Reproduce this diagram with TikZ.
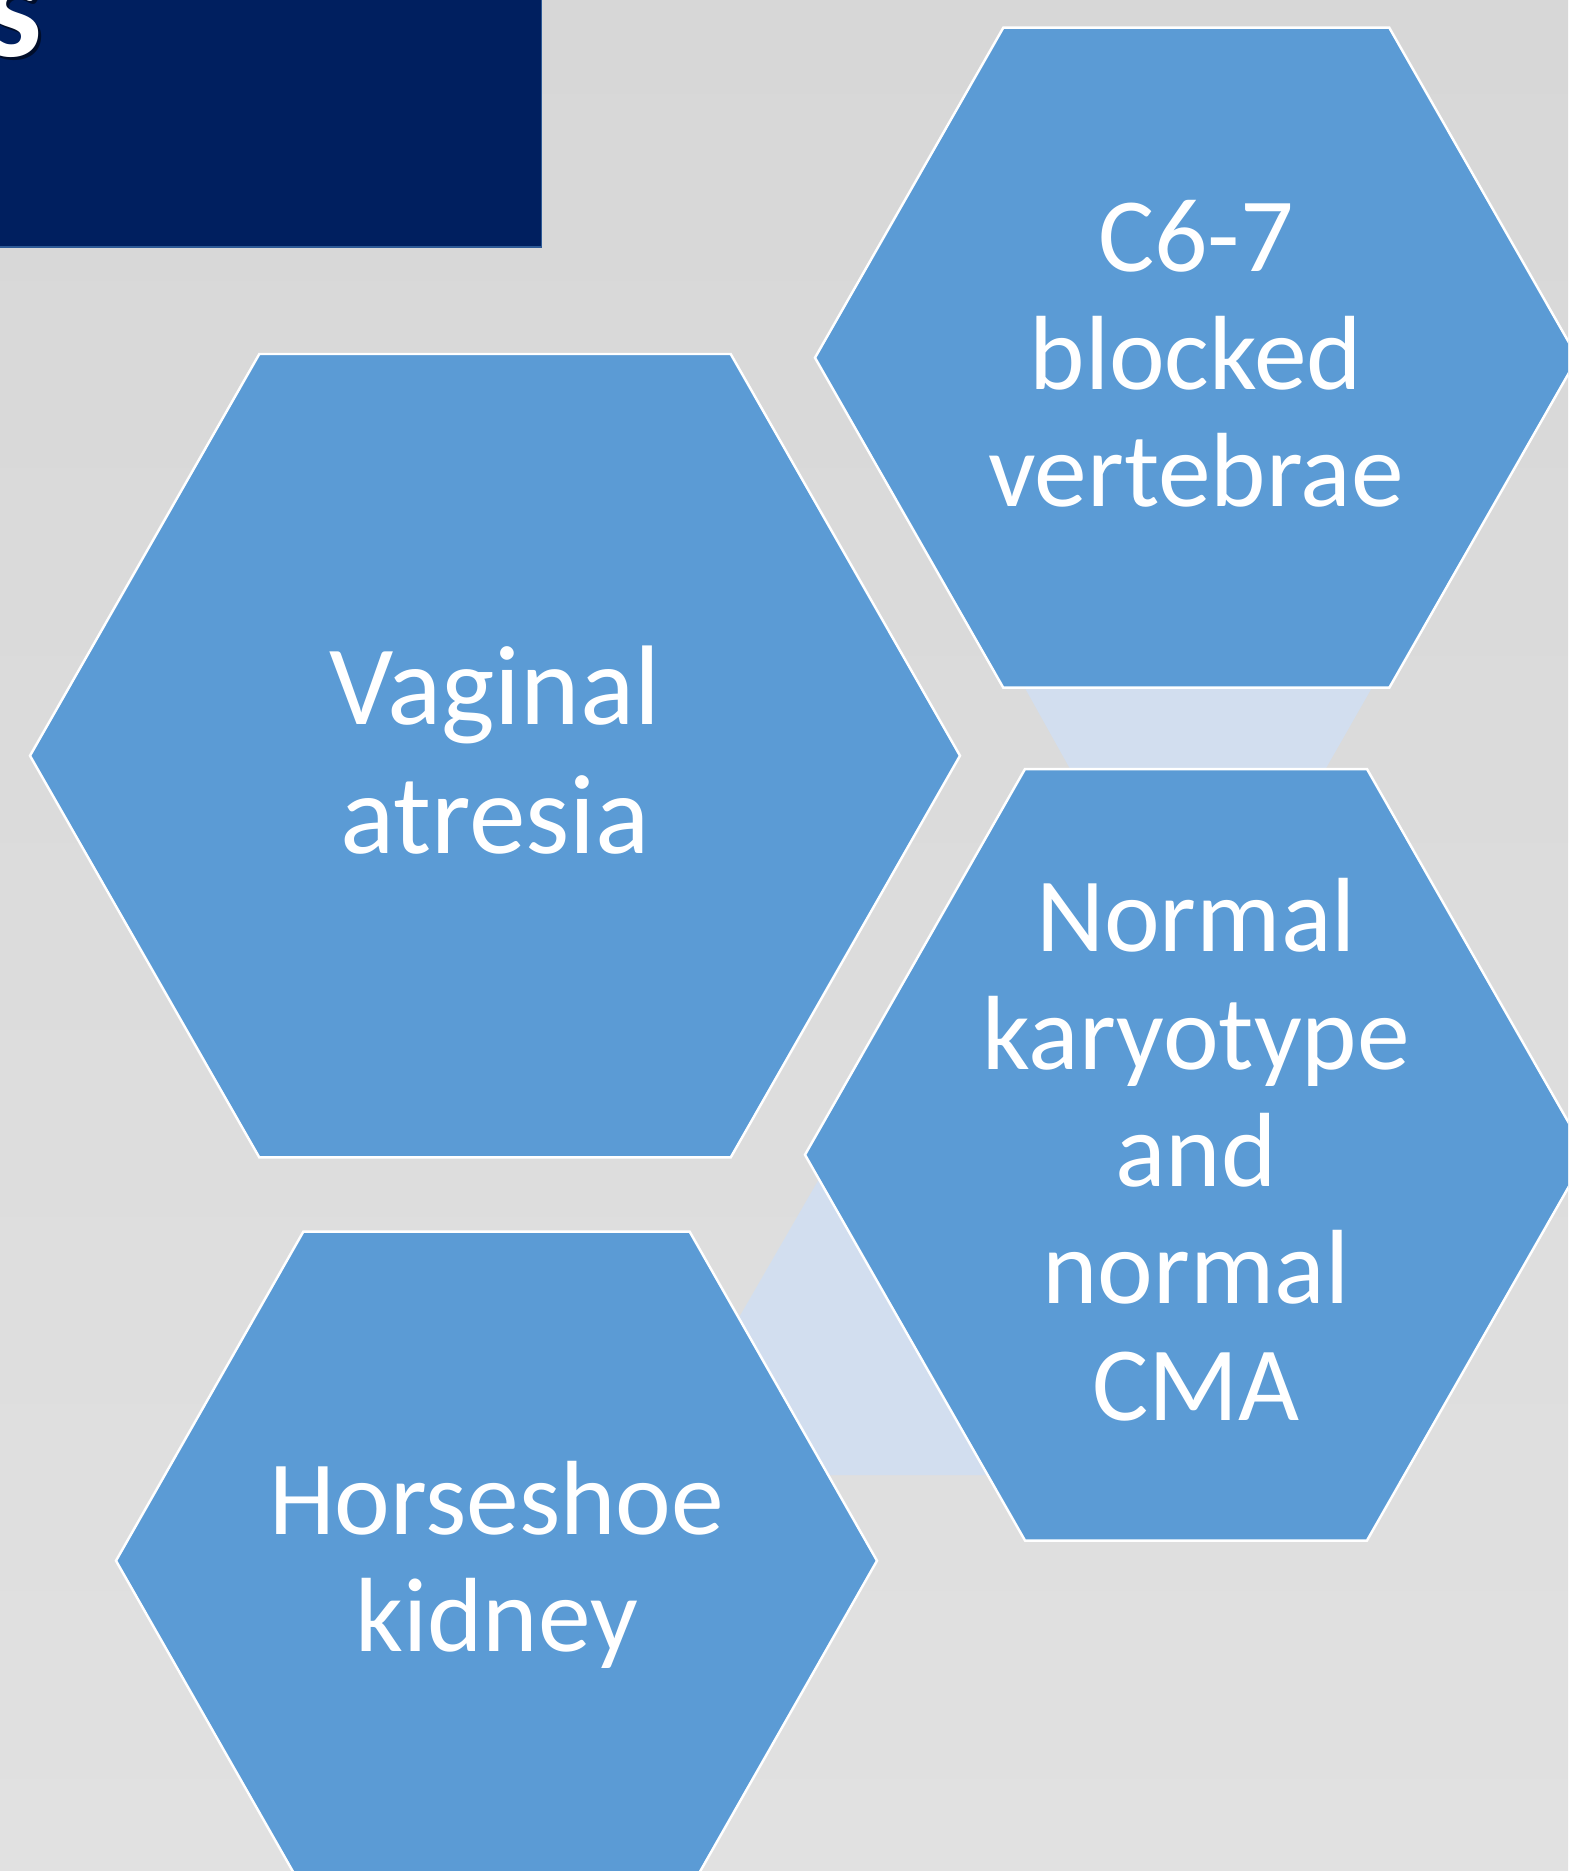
\documentclass[tikz,border=0pt]{standalone}
\usepackage{fontspec}
\setmainfont{Carlito}
\definecolor{hexblue}{HTML}{5B9BD5}
\definecolor{lightband}{HTML}{D2DEEF}
\definecolor{bgtop}{HTML}{D7D7D7}
\definecolor{bgbot}{HTML}{E1E1E1}
\definecolor{navy}{HTML}{001F5F}
\definecolor{navyedge}{HTML}{2E5A96}
\tikzset{
  hexshape/.style={fill=hexblue, draw=white, line width=0.7pt, line join=miter},
  bandshape/.style={fill=lightband},
  hextext/.style={text=white, align=center, inner sep=0pt, font=\fontsize{30}{33.3}\selectfont},
  bigtext/.style={text=white, align=center, inner sep=0pt, font=\fontsize{32.2}{36.7}\selectfont}
}
\begin{document}
\begin{tikzpicture}[x=0.01cm, y=-0.01cm]
\useasboundingbox (0,0) rectangle (1568,1871);
\clip (0,0) rectangle (1568,1871);
% background
\shade[top color=bgtop, bottom color=bgbot] (0,0) rectangle (1568,1871);
% light bands (behind the hexagons)
\path[bandshape] (1020.5,680) -- (1376.3,680) -- (1322.1,775) -- (1073.5,775) -- cycle;
\path[bandshape] (830,1160) -- (700,1385) -- (700,1475) -- (1000,1475) -- (1000,1160) -- cycle;
% hexagons
\draw[hexshape] (815,357.7) -- (1003.3,27.7) -- (1389.3,27.7) -- (1577.6,357.7) -- (1389.3,687.7) -- (1003.3,687.7) -- cycle;
\draw[hexshape] (30,755.7) -- (259.3,354) -- (730.7,354) -- (960,755.7) -- (730.7,1157.4) -- (259.3,1157.4) -- cycle;
\draw[hexshape] (805,1154.75) -- (1025,769) -- (1367,769) -- (1587,1154.75) -- (1367,1540.5) -- (1025,1540.5) -- cycle;
\draw[hexshape] (116,1560.7) -- (303.3,1231.7) -- (689.7,1231.7) -- (877,1560.7) -- (689.7,1889.7) -- (303.3,1889.7) -- cycle;
% texts
\node[hextext] (c67) at (1196,353.8) {C6-7\\blocked\\vertebrae};
\node[bigtext] (vag) at (495,750.1) {Vaginal\\atresia};
\node[hextext] (kar) at (1196,1149.9) {Normal\\karyotype\\and\\normal\\CMA};
\node[hextext] (horse) at (496.5,1565) {Horseshoe\\kidney};
% title box
\draw[fill=navy, draw=navyedge, line width=0.45pt] (-20,-20) rectangle (541.5,246.7);
\node[text=black, opacity=0.55, inner sep=0pt, anchor=base east, font=\bfseries\fontsize{42}{46}\selectfont] (sshadow) at (46,59) {s};
\node[text=white, inner sep=0pt, anchor=base east, font=\bfseries\fontsize{42}{46}\selectfont] (stitle) at (43,56) {s};
\end{tikzpicture}
\end{document}
